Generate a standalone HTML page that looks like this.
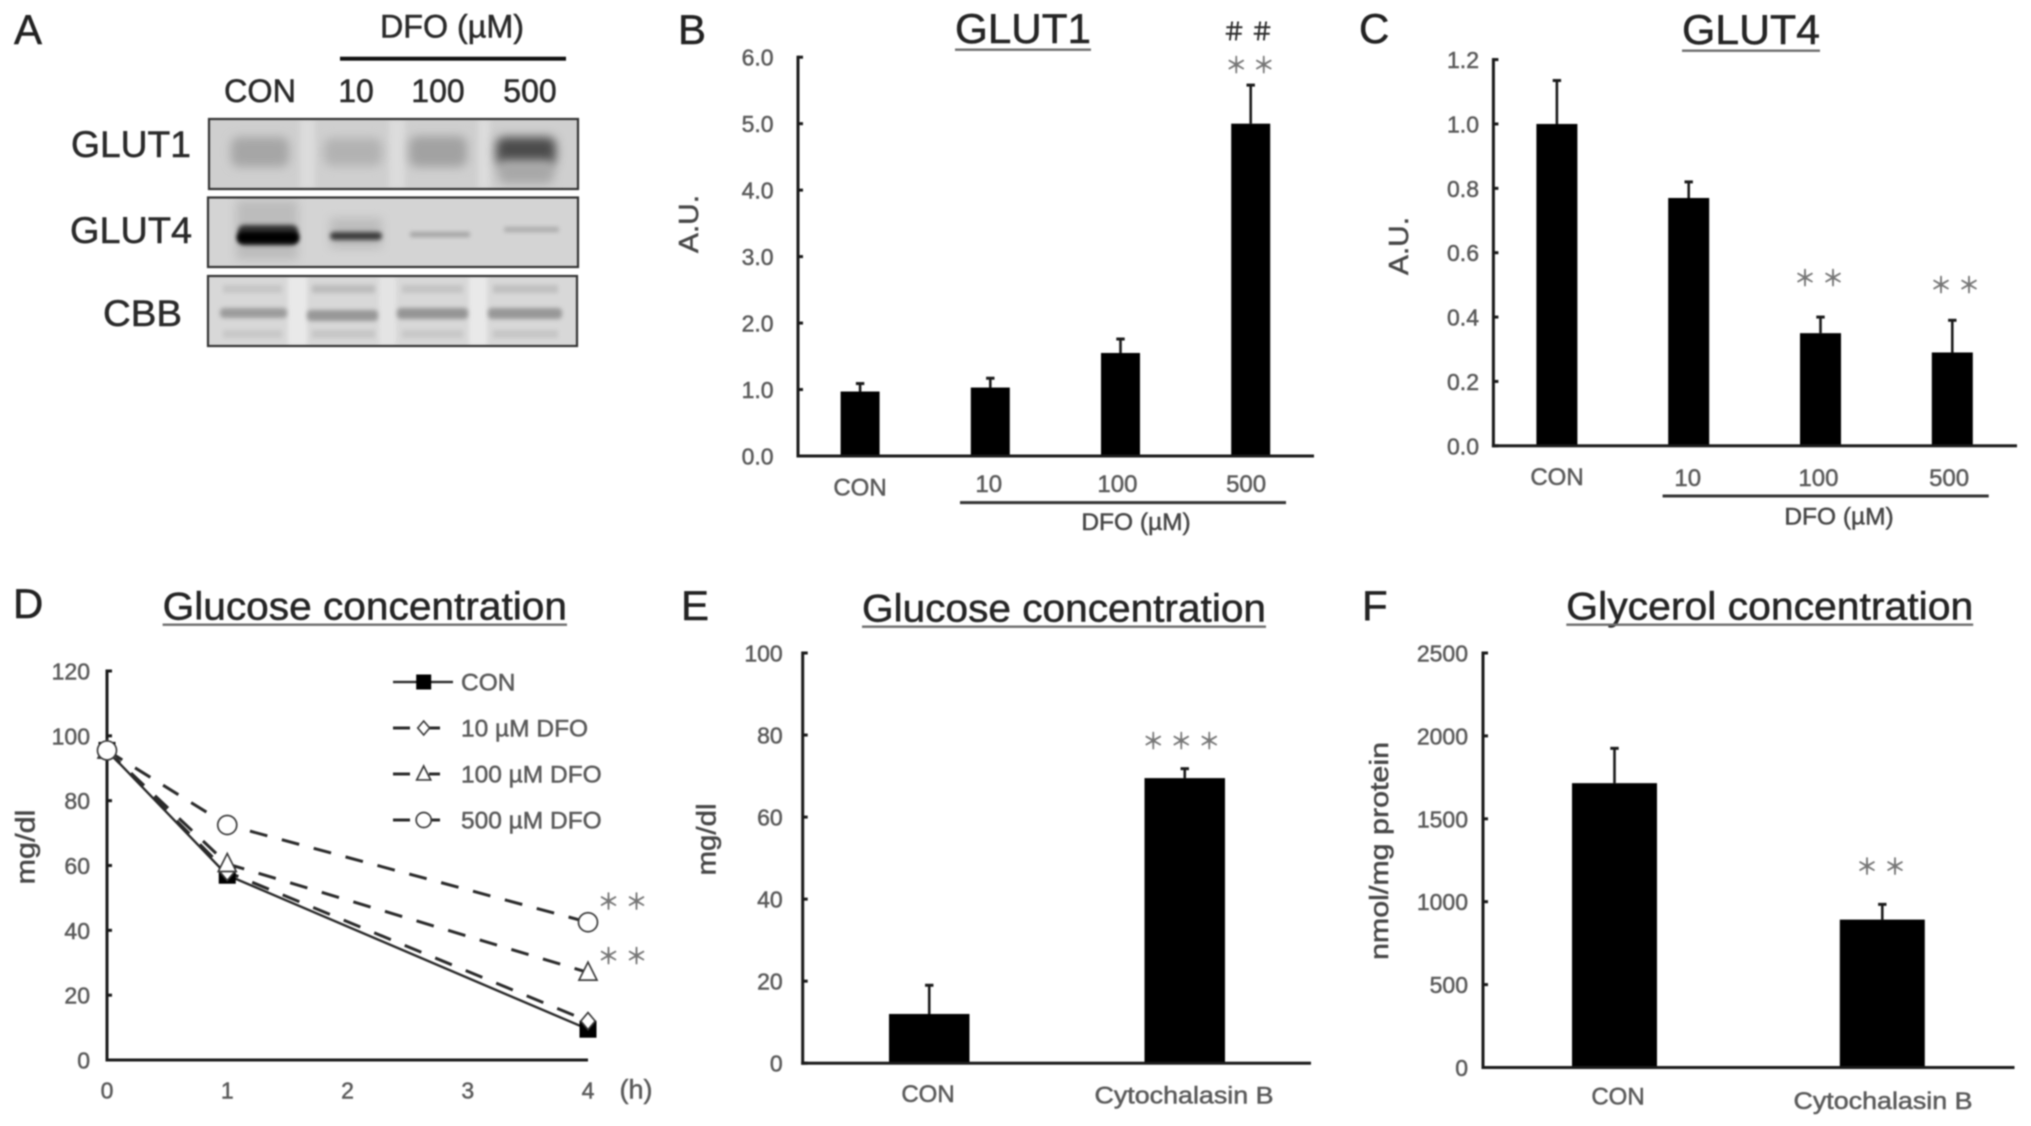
<!DOCTYPE html>
<html lang="en">
<head>
<meta charset="utf-8">
<title>GLUT1 and GLUT4 expression, glucose and glycerol concentration</title>
<style>
html,body{margin:0;padding:0;background:#fff;overflow:hidden;}
#figure{display:block;width:2031px;height:1126px;filter:blur(.9px);font-family:"Liberation Sans","Noto Sans CJK JP",sans-serif;}
.blot-label{fill:#2a2a2a;stroke:#2a2a2a;stroke-width:.5px;}
</style>
</head>
<body>
<svg id="figure" xmlns="http://www.w3.org/2000/svg" width="2031" height="1126" viewBox="0 0 2031 1126">
  <defs>
    <filter id="b2" x="-30%" y="-100%" width="160%" height="300%"><feGaussianBlur stdDeviation="2"/></filter>
    <filter id="b5" x="-30%" y="-100%" width="160%" height="300%"><feGaussianBlur stdDeviation="5"/></filter>
    <filter id="b3" x="-30%" y="-100%" width="160%" height="300%"><feGaussianBlur stdDeviation="3"/></filter>
    <clipPath id="clip-g1"><rect x="209" y="119" width="369" height="70"/></clipPath>
    <clipPath id="clip-g4"><rect x="208" y="197.5" width="370" height="69.5"/></clipPath>
    <clipPath id="clip-cbb"><rect x="208" y="276" width="369" height="70"/></clipPath>
  </defs>
  <rect x="0" y="0" width="2031" height="1126" fill="#fff"/>

  <g>
    <text x="14" y="44" font-size="42" fill="#222" stroke="#222" stroke-width=".5">A</text>
    <text x="452" y="37.7" font-size="32" text-anchor="middle" textLength="144" lengthAdjust="spacingAndGlyphs" class="blot-label">DFO (µM)</text>
    <rect x="340" y="56.7" width="226" height="4" fill="#111"/>
    <text x="260" y="102" font-size="32" text-anchor="middle" textLength="72" lengthAdjust="spacingAndGlyphs" class="blot-label">CON</text>
    <text x="356" y="102" font-size="32" text-anchor="middle" class="blot-label">10</text>
    <text x="438" y="102" font-size="32" text-anchor="middle" class="blot-label">100</text>
    <text x="530" y="102" font-size="32" text-anchor="middle" class="blot-label">500</text>
    <text x="191" y="157" font-size="37" text-anchor="end" textLength="120" lengthAdjust="spacingAndGlyphs" class="blot-label">GLUT1</text>
    <text x="192" y="243" font-size="37" text-anchor="end" textLength="122" lengthAdjust="spacingAndGlyphs" class="blot-label">GLUT4</text>
    <text x="182" y="326" font-size="37" text-anchor="end" textLength="79" lengthAdjust="spacingAndGlyphs" class="blot-label">CBB</text>

    <g clip-path="url(#clip-g1)">
      <rect x="209" y="119" width="369" height="70" fill="#cfcfcf"/>
      <rect x="300" y="119" width="15" height="70" fill="#dcdcdc" filter="url(#b3)"/>
      <rect x="389" y="119" width="16" height="70" fill="#dcdcdc" filter="url(#b3)"/>
      <rect x="478" y="119" width="12" height="70" fill="#dcdcdc" filter="url(#b3)"/>
      <rect x="231" y="137" width="58" height="30" rx="8" fill="#a6a6a6" filter="url(#b5)"/>
      <rect x="324" y="138" width="58" height="28" rx="8" fill="#b2b2b2" filter="url(#b5)"/>
      <rect x="409" y="136" width="58" height="31" rx="8" fill="#a2a2a2" filter="url(#b5)"/>
      <rect x="496" y="137" width="60" height="29" rx="8" fill="#4c4c4c" filter="url(#b5)"/>
      <rect x="498" y="160" width="56" height="24" rx="8" fill="#a8a8a8" filter="url(#b5)"/>
    </g>
    <rect x="209" y="119" width="369" height="70" fill="none" stroke="#333" stroke-width="2.2"/>

    <g clip-path="url(#clip-g4)">
      <rect x="208" y="197.5" width="370" height="69.5" fill="#d4d4d4"/>
      <rect x="236" y="200" width="62" height="60" fill="#bcbcbc" filter="url(#b5)"/>
      <rect x="330" y="218" width="52" height="30" fill="#bcbcbc" filter="url(#b5)"/>
      <rect x="238" y="225" width="60" height="20" rx="6" fill="#333" filter="url(#b2)"/>
      <rect x="237" y="232" width="62" height="11" rx="5" fill="#000" filter="url(#b2)"/>
      <rect x="330" y="232" width="52" height="8" rx="4" fill="#3c3c3c" filter="url(#b2)"/>
      <rect x="410" y="232" width="60" height="5" rx="2" fill="#a2a2a2" filter="url(#b2)"/>
      <rect x="504" y="227" width="55" height="5" rx="2" fill="#aaa" filter="url(#b2)"/>
    </g>
    <rect x="208" y="197.5" width="370" height="69.5" fill="none" stroke="#333" stroke-width="2.2"/>

    <g clip-path="url(#clip-cbb)">
      <rect x="208" y="276" width="369" height="70" fill="#d8d8d8"/>
      <rect x="288" y="276" width="19" height="70" fill="#e9e9e9" filter="url(#b2)"/>
      <rect x="379" y="276" width="17" height="70" fill="#e4e4e4" filter="url(#b2)"/>
      <rect x="469" y="276" width="18" height="70" fill="#e9e9e9" filter="url(#b2)"/>
      <rect x="223" y="285" width="59" height="8" fill="#c6c6c6" filter="url(#b2)"/>
      <rect x="312" y="285" width="63" height="8" fill="#bcbcbc" filter="url(#b2)"/>
      <rect x="402" y="285" width="61" height="8" fill="#c4c4c4" filter="url(#b2)"/>
      <rect x="493" y="285" width="65" height="8" fill="#c0c0c0" filter="url(#b2)"/>
      <rect x="220" y="308" width="67" height="10" rx="4" fill="#9c9c9c" filter="url(#b2)"/>
      <rect x="307" y="310" width="71" height="11" rx="4" fill="#989898" filter="url(#b2)"/>
      <rect x="397" y="308" width="71" height="11" rx="4" fill="#959595" filter="url(#b2)"/>
      <rect x="488" y="308" width="74" height="11" rx="4" fill="#989898" filter="url(#b2)"/>
      <rect x="223" y="330" width="59" height="8" fill="#c8c8c8" filter="url(#b2)"/>
      <rect x="312" y="330" width="63" height="8" fill="#c6c6c6" filter="url(#b2)"/>
      <rect x="402" y="330" width="61" height="8" fill="#c8c8c8" filter="url(#b2)"/>
      <rect x="493" y="330" width="65" height="8" fill="#c6c6c6" filter="url(#b2)"/>
    </g>
    <rect x="208" y="276" width="369" height="70" fill="none" stroke="#333" stroke-width="2.2"/>
  </g>
</svg>

<script>
// Panel B data
const glut1Categories = ["CON", "10", "100", "500"];
const glut1Means = [0.97, 1.03, 1.55, 5.0];
const glut1Errors = [0.12, 0.14, 0.21, 0.58];
const glut1Ticks = ["0.0", "1.0", "2.0", "3.0", "4.0", "5.0", "6.0"];

// Panel C data
const glut4Categories = ["CON", "10", "100", "500"];
const glut4Means = [1.0, 0.77, 0.35, 0.29];
const glut4Errors = [0.135, 0.05, 0.05, 0.10];
const glut4Ticks = ["0.0", "0.2", "0.4", "0.6", "0.8", "1.0", "1.2"];

// Panel D data
const timeLabels = ["0", "1", "2", "3", "4"];
const sampleHours = [0, 1, 4];
const glucoseTimeTicks = ["0", "20", "40", "60", "80", "100", "120"];
const conSeries = [95.5, 57, 9.5];
const dfo10Series = [95.5, 58, 12];
const dfo100Series = [95.5, 60.5, 27];
const dfo500Series = [95.5, 72.5, 42.5];

// Panel E data
const glucoseCategories = ["CON", "Cytochalasin B"];
const glucoseMeans = [12, 69.5];
const glucoseErrors = [7, 2.3];
const glucoseTicks = ["0", "20", "40", "60", "80", "100"];

// Panel F data
const glycerolCategories = ["CON", "Cytochalasin B"];
const glycerolMeans = [1715, 892];
const glycerolErrors = [210, 92];
const glycerolTicks = ["0", "500", "1000", "1500", "2000", "2500"];

const svg = document.getElementById('figure');
const NS = 'http://www.w3.org/2000/svg';
const FG = '#1a1a1a';
const TICK = '#5a5a5a';
const LABEL = '#474747';

function make(tag, geometry, parent) {
  const node = document.createElementNS(NS, tag);
  for (const key in geometry) node.setAttribute(key, geometry[key]);
  parent.appendChild(node);
  return node;
}

function write(parent, str, x, y, size, fill, anchor, len) {
  const node = make('text', {x: x, y: y, 'font-size': size, fill: fill, stroke: fill, 'stroke-width': 0.5, 'text-anchor': anchor}, parent);
  if (len) {
    node.setAttribute('textLength', len);
    node.setAttribute('lengthAdjust', 'spacingAndGlyphs');
  }
  node.textContent = str;
  return node;
}

function drawHeader(g, slug, cfg) {
  const letter = write(g, cfg.letter, cfg.letterX, cfg.letterY, 42, '#222', 'start');
  
  

  const title = write(g, cfg.title, (cfg.titleL + cfg.titleR) / 2, cfg.titleY, cfg.titleSize, '#252525', 'middle', cfg.titleR - cfg.titleL);
  
  

  const rule = make('rect', {x: cfg.titleL, y: cfg.underlineY - 1, width: cfg.titleR - cfg.titleL, height: 2.4, fill: '#6e6e6e'}, g);
  
  

  const yTitle = write(g, cfg.yTitle, 0, 0, cfg.yTitleSize, LABEL, 'middle', cfg.yTitleLen);
  yTitle.setAttribute('transform', 'translate(' + cfg.yTitleX + ' ' + cfg.yTitleY + ') rotate(-90)');
  
  
}

function drawYAxis(g, slug, cfg, ticks, yOf) {
  const axisLine = make('rect', {x: cfg.axisX - 1.5, y: cfg.topY - 1.5, width: 3, height: cfg.zeroY - cfg.topY + 3, fill: FG}, g);
  
  

  ticks.forEach(function (label) {
    const y = yOf(parseFloat(label));
    const mark = make('rect', {x: cfg.axisX, y: y - 1.5, width: 5, height: 3, fill: FG}, g);
    
    

    const text = write(g, label, cfg.tickRight, y + 8.5, cfg.tickSize, TICK, 'end');
    
    
  });
}

function drawStars(g, slug, glyphs, x, yc, pitch, fill, glyphSize) {
  const size = glyphSize || 22;
  const gap = pitch - size;
  const node = write(g, glyphs, x + gap / 2, yc + size * 0.36, size, fill, 'middle');
  node.setAttribute('letter-spacing', gap);
  
  
}

function drawBarChart(slug, cfg, categories, means, errors, ticks) {
  const g = make('g', {}, svg);
  
  

  const maxTick = parseFloat(ticks[ticks.length - 1]);
  const yOf = function (v) { return cfg.zeroY - (v / maxTick) * (cfg.zeroY - cfg.topY); };
  const xOf = function (i) { return cfg.bandStart + (i + 0.5) * cfg.bandStep; };

  drawHeader(g, slug, cfg);
  drawYAxis(g, slug, cfg, ticks, yOf);

  means.forEach(function (mean, i) {
    const cx = xOf(i);
    const top = yOf(mean + errors[i]);

    const stem = make('rect', {x: cx - 1.3, y: top, width: 2.6, height: yOf(mean) - top, fill: FG}, g);
    
    

    const cap = make('rect', {x: cx - 4.2, y: top - 1.5, width: 8.4, height: 3, fill: FG}, g);
    
    

    const bar = make('rect', {x: cx - cfg.barW / 2, y: yOf(mean), width: cfg.barW, height: cfg.zeroY - yOf(mean), fill: '#000'}, g);
    
    

    const labelX = cfg.catStart + i * cfg.catStep;
    const labelY = i === 0 ? cfg.catY : cfg.restY;
    const label = write(g, categories[i], labelX, labelY, 24, TICK, 'middle', categories[i].length > 5 ? cfg.longLen : 0);
    
    
  });

  const xAxis = make('rect', {x: cfg.axisX - 1.5, y: cfg.zeroY - 1.5, width: cfg.axisRight - cfg.axisX + 1.5, height: 3, fill: FG}, g);
  
  

  if (cfg.doseL) {
    const doseLine = make('rect', {x: cfg.doseL, y: cfg.doseY - 1.5, width: cfg.doseR - cfg.doseL, height: 3, fill: '#333'}, g);
    
    

    const doseText = write(g, 'DFO (µM)', cfg.doseTextX, cfg.doseTextY, 24.5, LABEL, 'middle');
    
    
  }
  return g;
}

const gB = drawBarChart('glut1', {
  letter: 'B', letterX: 678, letterY: 44, title: 'GLUT1', titleL: 955, titleR: 1091, titleY: 43, titleSize: 42, underlineY: 49.5,
  yTitle: 'A.U.', yTitleX: 698, yTitleY: 224, yTitleSize: 28, yTitleLen: 58,
  axisX: 798, axisRight: 1314, topY: 57.2, zeroY: 456, tickRight: 773.6, tickSize: 23,
  bandStart: 795, bandStep: 130.2, barW: 39,
  catStart: 860, catStep: 128.7, catY: 495.3, restY: 492,
  doseL: 960, doseR: 1286, doseY: 502.6, doseTextX: 1136, doseTextY: 530
}, glut1Categories, glut1Means, glut1Errors, glut1Ticks);
drawStars(gB, 'glut1-hash-marks', '＃＃', 1248, 31.6, 28, '#2e2e2e', 24);
drawStars(gB, 'glut1-significance-stars', '＊＊', 1250, 65, 27.6, '#777');

const gC = drawBarChart('glut4', {
  letter: 'C', letterX: 1359, letterY: 43, title: 'GLUT4', titleL: 1682, titleR: 1820, titleY: 44, titleSize: 42, underlineY: 50.5,
  yTitle: 'A.U.', yTitleX: 1408, yTitleY: 246, yTitleSize: 28, yTitleLen: 58,
  axisX: 1493.4, axisRight: 2017, topY: 59.6, zeroY: 445.8, tickRight: 1479, tickSize: 23,
  bandStart: 1491, bandStep: 131.8, barW: 41,
  catStart: 1557, catStep: 130.7, catY: 485, restY: 485.8,
  doseL: 1662.6, doseR: 1988.7, doseY: 496, doseTextX: 1839, doseTextY: 524.4
}, glut4Categories, glut4Means, glut4Errors, glut4Ticks);
drawStars(gC, 'glut4-stars-100', '＊＊', 1819, 278, 28, '#777');
drawStars(gC, 'glut4-stars-500', '＊＊', 1955, 285, 28, '#777');

const gE = drawBarChart('glucose-cytochalasin', {
  letter: 'E', letterX: 681, letterY: 620, title: 'Glucose concentration', titleL: 862, titleR: 1266, titleY: 621.5, titleSize: 39, underlineY: 626.5,
  yTitle: 'mg/dl', yTitleX: 715.5, yTitleY: 839.5, yTitleSize: 27, yTitleLen: 72,
  axisX: 802.7, axisRight: 1311, topY: 653, zeroY: 1063.2, tickRight: 782.7, tickSize: 23,
  bandStart: 801.5, bandStep: 255.5, barW: 80.5,
  catStart: 928, catStep: 256, catY: 1101.9, restY: 1103.7, longLen: 179
}, glucoseCategories, glucoseMeans, glucoseErrors, glucoseTicks);
drawStars(gE, 'glucose-cytochalasin-stars', '＊＊＊', 1181.3, 741, 28, '#777');

const gF = drawBarChart('glycerol', {
  letter: 'F', letterX: 1362, letterY: 620, title: 'Glycerol concentration', titleL: 1566.3, titleR: 1973.2, titleY: 619.5, titleSize: 39, underlineY: 624.5,
  yTitle: 'nmol/mg protein', yTitleX: 1388, yTitleY: 851, yTitleSize: 26, yTitleLen: 218,
  axisX: 1483, axisRight: 2014.5, topY: 653, zeroY: 1067.5, tickRight: 1468, tickSize: 23,
  bandStart: 1480.6, bandStep: 267.8, barW: 85,
  catStart: 1618, catStep: 265, catY: 1104.4, restY: 1109, longLen: 179
}, glycerolCategories, glycerolMeans, glycerolErrors, glycerolTicks);
drawStars(gF, 'glycerol-stars', '＊＊', 1881, 866.5, 28, '#777');

// Panel D: time course line chart
const dLayout = {axisX: 107, axisRight: 588, topY: 671, zeroY: 1060, tickRight: 90, tickSize: 23, letter: 'D', letterX: 13, letterY: 618,
  title: 'Glucose concentration', titleL: 162.6, titleR: 567, titleY: 619.5, titleSize: 39, underlineY: 624.5,
  yTitle: 'mg/dl', yTitleX: 34.7, yTitleY: 847, yTitleSize: 27, yTitleLen: 75};
const gD = make('g', {}, svg);



const maxD = parseFloat(glucoseTimeTicks[glucoseTimeTicks.length - 1]);
const yD = function (v) { return dLayout.zeroY - (v / maxD) * (dLayout.zeroY - dLayout.topY); };
const xD = function (h) { return dLayout.axisX + h * (dLayout.axisRight - dLayout.axisX) / (timeLabels.length - 1); };

drawHeader(gD, 'glucose-time-course', dLayout);
drawYAxis(gD, 'glucose-time-course', dLayout, glucoseTimeTicks, yD);

const dXAxis = make('rect', {x: dLayout.axisX - 1.5, y: dLayout.zeroY - 1.5, width: dLayout.axisRight - dLayout.axisX + 1.5, height: 3, fill: FG}, gD);



timeLabels.forEach(function (label, i) {
  const t = write(gD, label, xD(i), 1098.4, 23, TICK, 'middle');
  
  
});

const hoursUnit = write(gD, '(h)', 636, 1098.4, 27, TICK, 'middle');



function drawMarker(kind, slug, cx, cy, r, parent) {
  let node;
  if (kind === 'square') {
    node = make('rect', {x: cx - r, y: cy - r, width: 2 * r, height: 2 * r, fill: '#000', stroke: 'none'}, parent);
  } else if (kind === 'circle') {
    node = make('circle', {cx: cx, cy: cy, r: r, fill: '#fff', stroke: '#3c3c3c', 'stroke-width': 1.7}, parent);
  } else if (kind === 'triangle') {
    node = make('polygon', {points: cx + ',' + (cy - r * 1.15) + ' ' + (cx + r) + ',' + (cy + r * 0.85) + ' ' + (cx - r) + ',' + (cy + r * 0.85), fill: '#fff', stroke: '#3c3c3c', 'stroke-width': 1.7}, parent);
  } else {
    node = make('polygon', {points: cx + ',' + (cy - r) + ' ' + (cx + r * 0.85) + ',' + cy + ' ' + cx + ',' + (cy + r) + ' ' + (cx - r * 0.85) + ',' + cy, fill: '#fff', stroke: '#3c3c3c', 'stroke-width': 1.7}, parent);
  }
  
  
}

const seriesList = [
  {slug: 'con', label: 'CON', values: conSeries, kind: 'square', r: 8.5, dash: '', legendR: 7.5},
  {slug: '10-um-dfo', label: '10 µM DFO', values: dfo10Series, kind: 'diamond', r: 8.5, dash: '18 15', legendR: 7},
  {slug: '100-um-dfo', label: '100 µM DFO', values: dfo100Series, kind: 'triangle', r: 9, dash: '18 15', legendR: 7},
  {slug: '500-um-dfo', label: '500 µM DFO', values: dfo500Series, kind: 'circle', r: 9.5, dash: '18 15', legendR: 7.5}
];

seriesList.forEach(function (s) {
  const d = s.values.map(function (v, i) { return (i ? 'L' : 'M') + xD(sampleHours[i]) + ' ' + yD(v); }).join(' ');
  const path = make('path', {d: d, fill: 'none', stroke: '#2a2a2a', 'stroke-width': s.dash ? 3 : 2.4}, gD);
  if (s.dash) path.setAttribute('stroke-dasharray', s.dash);
  
  
});

seriesList.forEach(function (s) {
  s.values.forEach(function (v, i) {
    drawMarker(s.kind, s.slug + '-point', xD(sampleHours[i]), yD(v), s.r, gD);
  });
});

drawStars(gD, 'dfo-500-stars', '＊＊', 622.5, 901.6, 28, '#777');
drawStars(gD, 'dfo-100-stars', '＊＊', 622.5, 956, 28, '#777');

const legend = make('g', {}, gD);



seriesList.forEach(function (s, i) {
  const rowY = 682 + i * 46;
  const row = make('g', {}, legend);
  
  

  if (s.dash) {
    const left = make('rect', {x: 393, y: rowY - 1.5, width: 17, height: 3, fill: '#2a2a2a'}, row);
    
    

    const right = make('rect', {x: 429, y: rowY - 1.5, width: 11, height: 3, fill: '#2a2a2a'}, row);
    
    
  } else {
    const solid = make('rect', {x: 393, y: rowY - 1.2, width: 60, height: 2.4, fill: '#2a2a2a'}, row);
    
    
  }

  drawMarker(s.kind, 'legend-marker', 423.7, rowY, s.legendR, row);

  const text = write(row, s.label, 461, rowY + 8.5, 24.5, TICK, 'start');
  
  
});
</script>
</body>
</html>
